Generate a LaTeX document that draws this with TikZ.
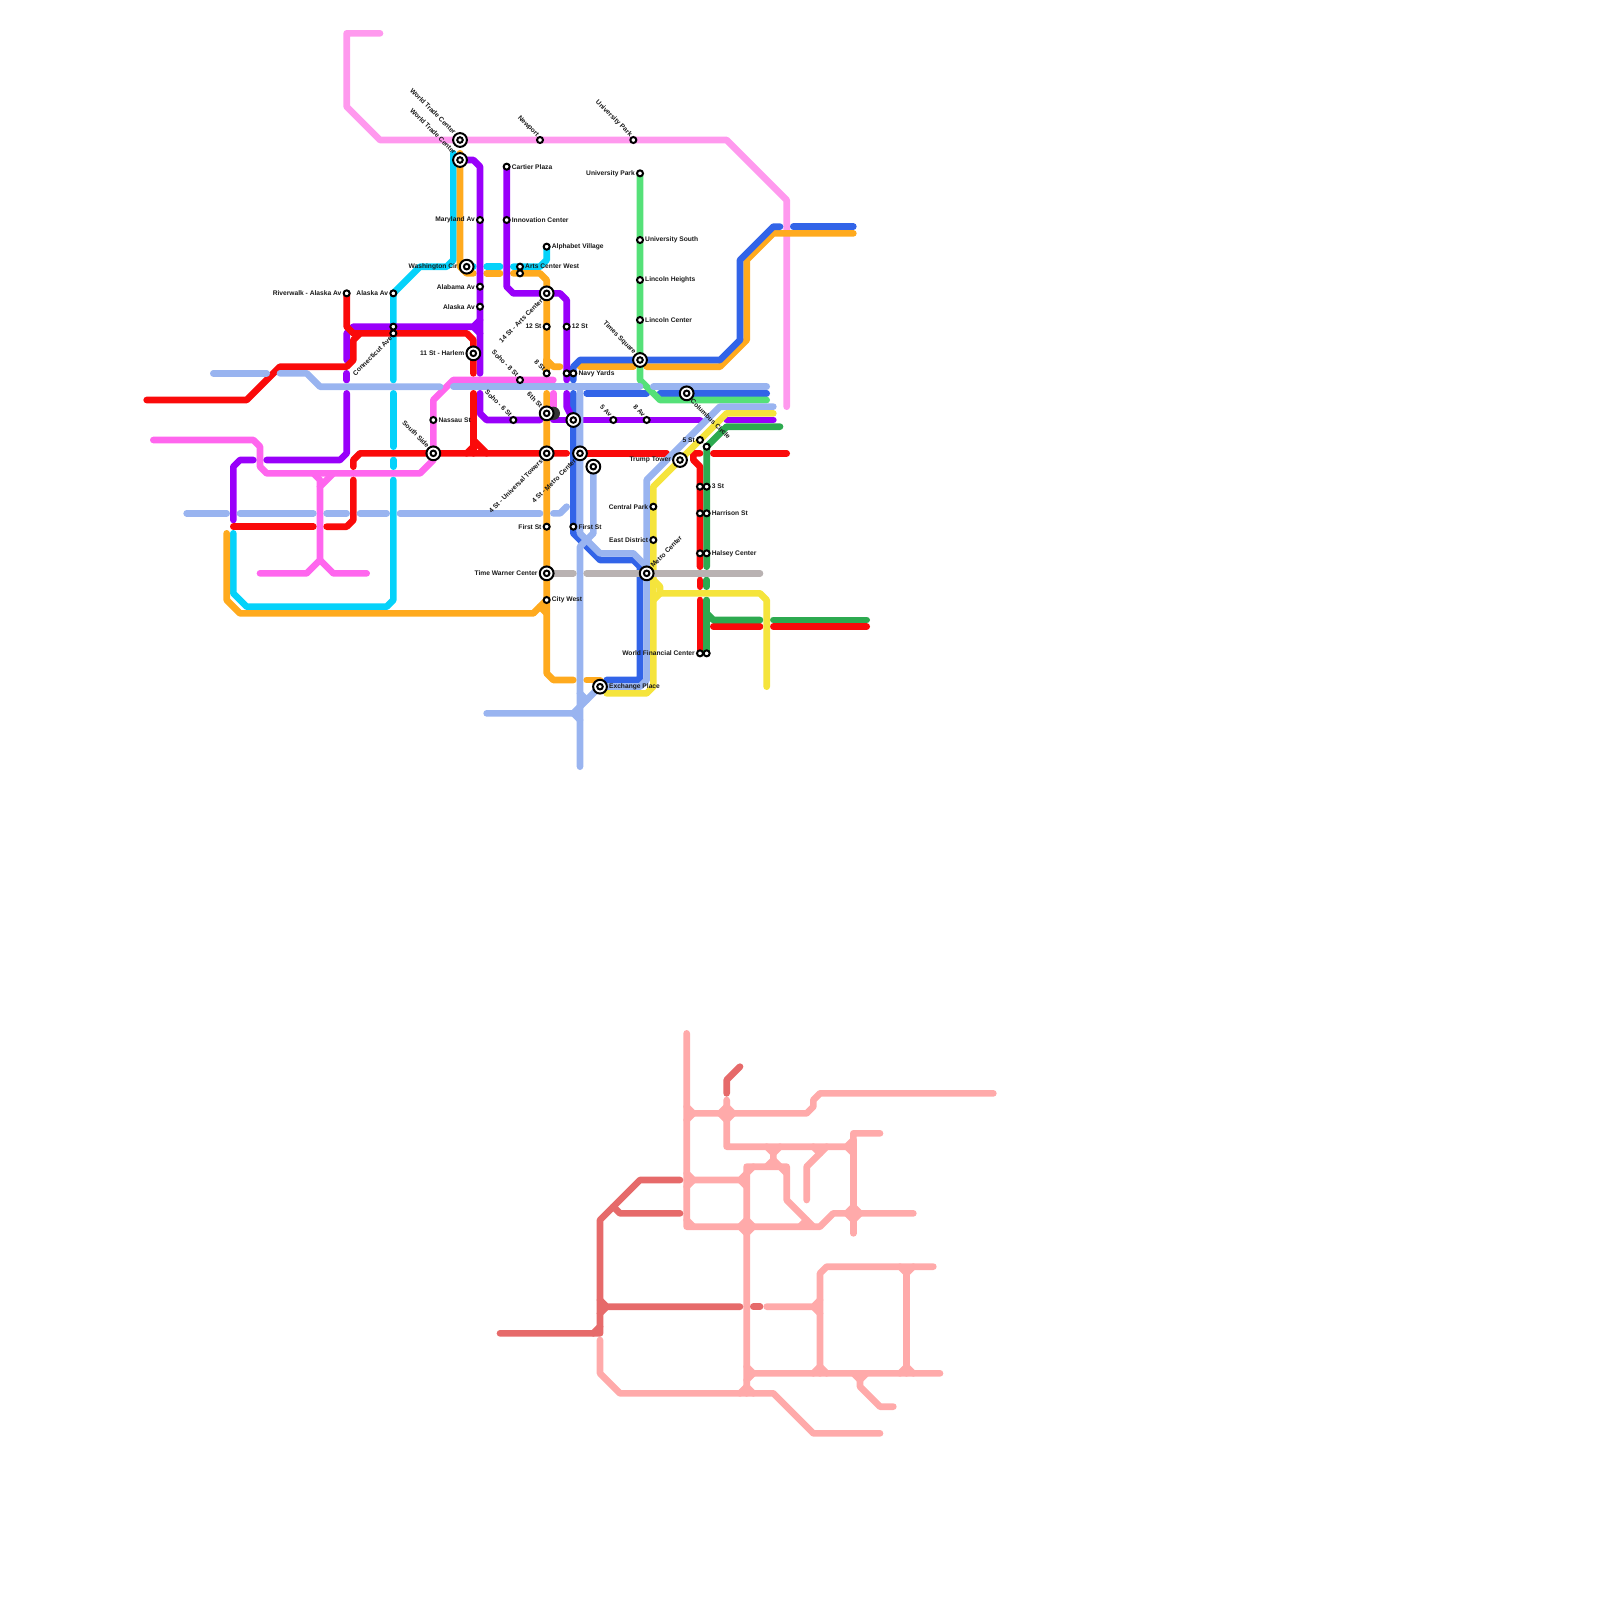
\documentclass[tikz,border=0pt]{standalone}
\usepackage{fontspec}
\setmainfont{Liberation Sans}
\usetikzlibrary{backgrounds}
\definecolor{lnpink}{RGB}{255,153,238}
\definecolor{lnmagenta}{RGB}{255,102,238}
\definecolor{lnred}{RGB}{250,10,10}
\definecolor{lnpurple}{RGB}{153,0,250}
\definecolor{lnorange}{RGB}{255,170,30}
\definecolor{lncyan}{RGB}{5,210,250}
\definecolor{lnperi}{RGB}{153,180,240}
\definecolor{lnblue}{RGB}{50,100,232}
\definecolor{lnlime}{RGB}{85,225,120}
\definecolor{lngreen}{RGB}{45,170,80}
\definecolor{lnyellow}{RGB}{245,228,60}
\definecolor{lngray}{RGB}{185,178,178}
\definecolor{lnsalmon}{RGB}{255,170,170}
\definecolor{lndeep}{RGB}{230,106,106}
\tikzset{
  rail/.style={draw=#1,line width=3pt,line cap=round,line join=round},
  stn/.style={circle,draw=black,fill=white,line width=.9pt,minimum size=2.7pt,inner sep=0pt,outer sep=0pt},
  hub/.style={stn,minimum size=6.2pt,path picture={\draw[line width=.9pt] (path picture bounding box.center) circle (1.25pt);}},
  lbl/.style={font=\fontsize{3}{3.6}\selectfont\bfseries,text=black!90,inner sep=0pt},
  lft/.style={lbl,anchor=east},
  rgt/.style={lbl,anchor=west},
  % slanted names
  upl/.style={lbl,rotate=-45,anchor=east},
  dnl/.style={lbl,rotate=45,anchor=east},
  upr/.style={lbl,rotate=45,anchor=west},
  dnr/.style={lbl,rotate=-45,anchor=west},
}
\begin{document}
\begin{tikzpicture}[x=3pt,y=-3pt,label distance=.8pt]
  \useasboundingbox (0,0) rectangle (240,240);
  % north side
  \node[hub,label={[upl]135:World Trade Center}] (wtcA) at (69,21) {};
  \node[hub,label={[upl]135:World Trade Center}] (wtcB) at (69,24) {};
  \node[stn,label={[upl]135:Newport}] (newport) at (81,21) {};
  \node[stn,label={[upl]135:University Park}] (uparkA) at (95,21) {};
  \node[stn,label={[lft]left:University Park}] (uparkB) at (96,26) {};
  \node[stn,label={[rgt]right:Cartier Plaza}] (cartier) at (76,25) {};
  \node[stn,label={[lft]left:Maryland Av}] (maryland) at (72,33) {};
  \node[stn,label={[rgt]right:Innovation Center}] (innov) at (76,33) {};
  \node[stn,label={[rgt]right:University South}] (usouth) at (96,36) {};
  \node[stn,label={[rgt]right:Alphabet Village}] (alphabet) at (82,37) {};
  \node[hub,label={[lft]left:Washington Cir}] (washcir) at (70,40) {};
  \node[stn,label={[rgt]right:Arts Center West}] (artsA) at (78,40) {};
  \node[stn] (artsB) at (78,41) {};
  \node[stn,label={[rgt]right:Lincoln Heights}] (lincolnH) at (96,42) {};
  \node[stn,label={[lft]left:Alabama Av}] (alabama) at (72,43) {};
  \node[hub,label={[dnl]225:14 St - Arts Center}] (arts14) at (82,44) {};
  \node[stn,label={[lft]left:Riverwalk - Alaska Av}] (riverwalk) at (52,44) {};
  \node[stn,label={[lft]left:Alaska Av}] (alaskaW) at (59,44) {};
  \node[stn,label={[lft]left:Alaska Av}] (alaskaE) at (72,46) {};
  \node[stn,label={[rgt]right:Lincoln Center}] (lincolnC) at (96,48) {};
  \node[stn] (connA) at (59,49) {};
  \node[stn,label={[dnl]225:Connecticut Ave}] (connB) at (59,50) {};
  \node[stn,label={[lft]left:12 St}] (st12A) at (82,49) {};
  \node[stn,label={[rgt]right:12 St}] (st12B) at (85,49) {};
  \node[hub,label={[lft]left:11 St - Harlem}] (harlem) at (71,53) {};
  \node[hub,label={[upl]135:Times Square}] (times) at (96,54) {};
  \node[stn,label={[upl]135:8 St}] (st8) at (82,56) {};
  \node[stn] (navyA) at (85,56) {};
  \node[stn,label={[rgt]right:Navy Yards}] (navyB) at (86,56) {};
  \node[stn,label={[upl]135:Soho - 8 St}] (soho8) at (78,57) {};
  \node[hub,label={[dnr]-45:Columbus Circle}] (columbus) at (103,59) {};
  % middle
  \node[stn,label={[rgt]right:Nassau St}] (nassau) at (65,63) {};
  \node[stn,label={[upl]135:Soho - 6 St}] (soho6) at (77,63) {};
  \node[hub,label={[upl]135:6th St}] (sixth) at (82,62) {};
  \node[hub] (crossA) at (86,63) {};
  \node[stn,label={[upl]135:5 Av}] (av5) at (92,63) {};
  \node[stn,label={[upl]135:8 Av}] (av8) at (97,63) {};
  \node[hub,label={[upl]135:South Side}] (south) at (65,68) {};
  \node[hub,label={[dnl]225:4 St - Universal Towers}] (universal) at (82,68) {};
  \node[hub,label={[dnl]225:4 St - Metro Center}] (metroW) at (87,68) {};
  \node[hub] (crossB) at (89,70) {};
  \node[hub,label={[lft]left:Trump Tower}] (trump) at (102,69) {};
  \node[stn,label={[lft]left:5 St}] (st5) at (105,66) {};
  \node[stn] (st5B) at (106,67) {};
  \node[stn] (st3A) at (105,73) {};
  \node[stn,label={[rgt]right:3 St}] (st3B) at (106,73) {};
  \node[stn,label={[lft]left:Central Park}] (central) at (98,76) {};
  \node[stn] (harrA) at (105,77) {};
  \node[stn,label={[rgt]right:Harrison St}] (harrB) at (106,77) {};
  \node[stn,label={[lft]left:First St}] (firstA) at (82,79) {};
  \node[stn,label={[rgt]right:First St}] (firstB) at (86,79) {};
  \node[stn,label={[lft]left:East District}] (eastd) at (98,81) {};
  \node[stn] (halsA) at (105,83) {};
  \node[stn,label={[rgt]right:Halsey Center}] (halsB) at (106,83) {};
  % south side
  \node[hub,label={[lft]left:Time Warner Center}] (warner) at (82,86) {};
  \node[hub,label={[upr]45:Metro Center}] (metroC) at (97,86) {};
  \node[stn,label={[rgt]right:City West}] (cityw) at (82,90) {};
  \node[stn,label={[lft]left:World Financial Center}] (wfcA) at (105,98) {};
  \node[stn] (wfcB) at (106,98) {};
  \node[hub,label={[rgt]right:Exchange Place}] (exchange) at (90,103) {};

  \begin{scope}[on background layer]
    % lower network
    \draw[rail=lnsalmon] (103,155) -- (103,184) -- (123,184) -- (125,182) -- (137,182);
    \draw[rail=lnsalmon] (103,166) -- (104,167) -- (121,167) -- (122,166) -- (122,165) -- (123,164) -- (149,164);
    \draw[rail=lnsalmon] (103,168) -- (104,167);
    \draw[rail=lnsalmon] (103,176) -- (104,177) -- (111,177) -- (112,176);
    \draw[rail=lnsalmon] (103,178) -- (104,177);
    \draw[rail=lnsalmon] (111,177) -- (112,178);
    \draw[rail=lnsalmon] (103,183) -- (104,184);
    \draw[rail=lnsalmon] (109,165) -- (109,172) -- (127,172) -- (128,171) -- (128,170) -- (132,170);
    \draw[rail=lnsalmon] (108,167) -- (109,166) -- (110,167) -- (109,168) -- cycle;
    \draw[rail=lnsalmon] (127,172) -- (128,173);
    \draw[rail=lnsalmon] (128,171) -- (128,185);
    \draw[rail=lnsalmon] (127,182) -- (128,181) -- (129,182) -- (128,183) -- cycle;
    \draw[rail=lnsalmon] (115,172) -- (116,173) -- (117,172);
    \draw[rail=lnsalmon] (116,173) -- (116,174) -- (115,175);
    \draw[rail=lnsalmon] (116,174) -- (117,175);
    \draw[rail=lnsalmon] (112,209) -- (112,175) -- (118,175) -- (118,180) -- (122,184);
    \draw[rail=lnsalmon] (113,175) -- (112,176);
    \draw[rail=lnsalmon] (117,175) -- (118,176);
    \draw[rail=lnsalmon] (120,184) -- (121,183);
    \draw[rail=lnsalmon] (124,172) -- (121,175) -- (121,180);
    \draw[rail=lnsalmon] (122,172) -- (123,173);
    \draw[rail=lnsalmon] (111,184) -- (112,183) -- (113,184) -- (112,185) -- cycle;
    \draw[rail=lnsalmon] (115,196) -- (122,196) -- (123,195);
    \draw[rail=lnsalmon] (122,196) -- (123,197);
    \draw[rail=lnsalmon] (123,206) -- (123,191) -- (124,190) -- (140,190);
    \draw[rail=lnsalmon] (135,190) -- (136,191) -- (137,190);
    \draw[rail=lnsalmon] (136,191) -- (136,206);
    \draw[rail=lnsalmon] (112,205) -- (113,206) -- (141,206);
    \draw[rail=lnsalmon] (113,206) -- (112,207);
    \draw[rail=lnsalmon] (122,206) -- (123,205) -- (124,206);
    \draw[rail=lnsalmon] (135,206) -- (136,205) -- (137,206);
    \draw[rail=lnsalmon] (128,206) -- (129,207) -- (130,206);
    \draw[rail=lnsalmon] (129,207) -- (129,208) -- (132,211) -- (134,211);
    \draw[rail=lnsalmon] (90,201) -- (90,206) -- (93,209) -- (116,209) -- (122,215) -- (132,215);
    \draw[rail=lnsalmon] (111,209) -- (112,208) -- (113,209);
    \draw[rail=lndeep] (111,160) -- (109,162) -- (109,164);
    \draw[rail=lndeep] (102,177) -- (96,177) -- (90,183) -- (90,200) -- (75,200);
    \draw[rail=lndeep] (89,200) -- (90,199);
    \draw[rail=lndeep] (102,182) -- (93,182) -- (92,181);
    \draw[rail=lndeep] (90,195) -- (91,196) -- (111,196);
    \draw[rail=lndeep] (90,197) -- (91,196);
    \draw[rail=lndeep] (113,196) -- (114,196);

    % upper network
    \draw[rail=lnpink] (57,5) -- (52,5) -- (52,16) -- (57,21) -- (109,21) -- (118,30) -- (118,61);

    \draw[rail=lncyan] (68,23) -- (68,39) -- (67,40) -- (63,40) -- (alaskaW.center) -- (59,57);
    \draw[rail=lncyan] (59,59) -- (59,67);
    \draw[rail=lncyan] (59,69) -- (59,70);
    \draw[rail=lncyan] (59,72) -- (59,90) -- (58,91) -- (37,91) -- (35,89) -- (35,80);
    \draw[rail=lncyan] (washcir.center) -- (71,40);
    \draw[rail=lncyan] (73,40) -- (75,40);
    \draw[rail=lncyan] (77,40) -- (81,40) -- (82,39) -- (alphabet.center);

    \draw[rail=lnorange] (69,23) -- (69,40) -- (70,41) -- (71,41);
    \draw[rail=lnorange] (73,41) -- (75,41);
    \draw[rail=lnorange] (77,41) -- (81,41) -- (82,42) -- (82,54) -- (83,55) -- (84,55);
    \draw[rail=lnorange] (82,54) -- (st8.center);
    \draw[rail=lnorange] (87,55) -- (95,55);
    \draw[rail=lnorange] (97,55) -- (108,55) -- (112,51) -- (112,39) -- (116,35) -- (128,35);
    \draw[rail=lnorange] (82,59) -- (82,101) -- (83,102) -- (86,102);
    \draw[rail=lnorange] (88,102) -- (90,102);
    \draw[rail=lnorange] (cityw.center) -- (80,92) -- (36,92) -- (34,90) -- (34,80);
    \draw[rail=lnorange] (81,91) -- (82,92);

    \draw[rail=lnmagenta] (23,66) -- (38,66) -- (39,67) -- (39,70) -- (40,71) -- (63,71) -- (65,69) -- (65,60) -- (68,57) -- (83,57);
    \draw[rail=lnmagenta] (50,71) -- (48,73) -- (48,84) -- (46,86) -- (39,86);
    \draw[rail=lnmagenta] (47,71) -- (48,72) -- (48,73);
    \draw[rail=lnmagenta] (48,84) -- (50,86) -- (55,86);
    \draw[rail=lnmagenta] (83,59) -- (83,61);

    \draw[rail=lnblue] (128,34) -- (119,34);
    \draw[rail=lnblue] (117,34) -- (116,34) -- (111,39) -- (111,51) -- (108,54) -- (87,54) -- (86,55) -- (86,57);
    \draw[rail=lnblue] (86,59) -- (86,80) -- (90,84) -- (95,84) -- (96,85) -- (96,102) -- (95,102) -- (91,102);
    \draw[rail=lnblue] (88,59) -- (97,59);
    \draw[rail=lnblue] (99,59) -- (115,59);

    \draw[rail=lnpurple] (wtcB.center) -- (71,24) -- (72,25) -- (72,56);
    \draw[rail=lnpurple] (72,48) -- (71,49) -- (53,49) -- (52,50) -- (52,54);
    \draw[rail=lnpurple] (71,49) -- (72,50);
    \draw[rail=lnpurple] (52,56) -- (52,57);
    \draw[rail=lnpurple] (52,59) -- (52,68) -- (51,69) -- (40,69);
    \draw[rail=lnpurple] (38,69) -- (36,69) -- (35,70) -- (35,78);
    \draw[rail=lnpurple] (72,59) -- (72,62) -- (73,63) -- (81,63);
    \draw[rail=lnpurple] (83,63) -- (105,63);
    \draw[rail=lnpurple] (109,63) -- (116,63);
    \draw[rail=lnpurple] (cartier.center) -- (76,43) -- (77,44) -- (84,44) -- (85,45) -- (85,57);
    \draw[rail=lnpurple] (85,59) -- (85,61) -- (crossA.center);

    \draw[rail=lnred] (22,60) -- (37,60) -- (42,55) -- (52,55) -- (53,54) -- (53,51) -- (54,50) -- (70,50) -- (71,51) -- (71,56);
    \draw[rail=lnred] (riverwalk.center) -- (52,49) -- (53,50) -- (54,50);
    \draw[rail=lnred] (71,59) -- (71,68);
    \draw[rail=lnred] (71,66) -- (73,68);
    \draw[rail=lnred] (70,68) -- (71,67);
    \draw[rail=lnred] (53,70) -- (53,69) -- (54,68) -- (85,68);
    \draw[rail=lnred] (53,72) -- (53,78) -- (52,79) -- (49,79);
    \draw[rail=lnred] (47,79) -- (35,79);
    \draw[rail=lnred] (metroW.center) -- (100,68);
    \draw[rail=lnred] (107,68) -- (118,68);
    \draw[rail=lnred] (105,68) -- (104,68) -- (104,69) -- (105,70) -- (105,85);
    \draw[rail=lnred] (105,87) -- (105,88);
    \draw[rail=lnred] (105,90) -- (wfcA.center);
    \draw[rail=lnred] (107,94) -- (114,94);
    \draw[rail=lnred] (116,94) -- (130,94);

    \draw[rail=lngreen] (117,64) -- (109,64) -- (st5B.center) -- (106,85);
    \draw[rail=lngreen] (106,87) -- (106,88);
    \draw[rail=lngreen] (106,90) -- (wfcB.center);
    \draw[rail=lngreen] (106,92) -- (107,93) -- (114,93);
    \draw[rail=lngreen] (116,93) -- (130,93);

    \draw[rail=lnlime] (uparkB.center) -- (96,57) -- (99,60) -- (115,60);

    \draw[rail=lnperi] (32,56) -- (40,56);
    \draw[rail=lnperi] (42,56) -- (46,56) -- (48,58) -- (66,58);
    \draw[rail=lnperi] (68,58) -- (96,58);
    \draw[rail=lnperi] (98,58) -- (115,58);
    \draw[rail=lnperi] (28,77) -- (34,77);
    \draw[rail=lnperi] (36,77) -- (47,77);
    \draw[rail=lnperi] (49,77) -- (52,77);
    \draw[rail=lnperi] (54,77) -- (58,77);
    \draw[rail=lnperi] (60,77) -- (81,77);
    \draw[rail=lnperi] (83,77) -- (84,77) -- (85,76);
    \draw[rail=lnperi] (87,58) -- (87,80) -- (90,83) -- (95,83) -- (97,85);
    \draw[rail=lnperi] (crossB.center) -- (89,80) -- (87,82) -- (87,115);
    \draw[rail=lnperi] (116,61) -- (108,61) -- (97,72) -- (97,102) -- (96,103) -- (exchange.center) -- (87,106);
    \draw[rail=lnperi] (73,107) -- (86,107) -- (87,106);
    \draw[rail=lnperi] (86,107) -- (87,108);
    \draw[rail=lnperi] (87,104) -- (88,105);

    \draw[rail=lnyellow] (116,62) -- (109,62) -- (98,73) -- (98,103) -- (97,104) -- (91,104);
    \draw[rail=lnyellow] (98,87) -- (99,88) -- (99,89) -- (114,89) -- (115,90) -- (115,103);
    \draw[rail=lnyellow] (98,90) -- (99,89);

    \draw[rail=lngray] (warner.center) -- (86,86);
    \draw[rail=lngray] (88,86) -- (114,86);

    \fill[black!80] (83,62) circle (1);
  \end{scope}
\end{tikzpicture}
\end{document}
